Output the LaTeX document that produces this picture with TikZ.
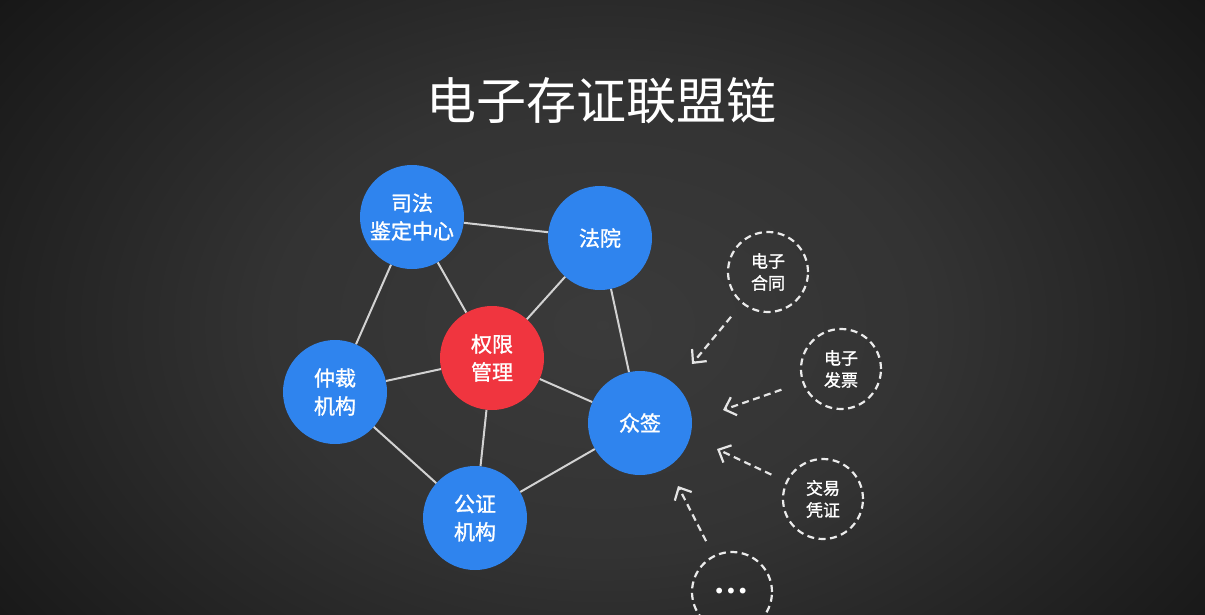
\documentclass[tikz,border=0pt]{standalone}
\usepackage{fontspec}
\newfontfamily\cjk{Noto Sans CJK SC}
\newfontfamily\cjkb[FakeBold=1.2]{Noto Sans CJK SC}
\newfontfamily\dejavu{DejaVu Sans}
\usetikzlibrary{arrows.meta}
\definecolor{nodeblue}{HTML}{2F84EE}
\definecolor{nodered}{HTML}{F0353F}
\definecolor{edgegray}{HTML}{D2D2D2}
\pgfdeclareradialshading{bgshade}{\pgfpoint{0bp}{0bp}}{%
  color(0bp)=(black!77!white);
  color(12bp)=(black!80!white);
  color(28bp)=(black!91!white);
  color(50bp)=(black)}
\tikzset{
  member/.style={circle, minimum size=104pt, inner sep=0pt, fill=nodeblue,
    text=white, align=center, font=\cjkb\fontsize{21}{28}\selectfont},
  core/.style={member, fill=nodered},
  source/.style={circle, minimum size=80pt, inner sep=0pt, draw=white!92!black,
    line width=2.2pt, dash pattern=on 7pt off 4.5pt, text=white, align=center,
    font=\cjkb\fontsize{17}{22}\selectfont},
  link/.style={draw=edgegray, line width=2pt},
  feed/.style={draw=white!90!black, line width=2.2pt, dash pattern=on 7pt off 4.5pt,
    -{Straight Barb[length=10pt,width=19pt,line width=2.2pt]}},
}
\begin{document}
\begin{tikzpicture}[x=1pt,y=-1pt]
\useasboundingbox (0,0) rectangle (1205,614);
\shade[shading=bgshade] (-80,-150) rectangle (1285,800);
\node[text=white, font=\cjk\fontsize{50}{58}\selectfont] (title) at (601,101) {电子存证联盟链};
% members
\node[member] (sifa) at (412,217) {司法\\鉴定中心};
\node[member] (fayuan) at (600,238) {法院};
\node[core] (quanxian) at (492,358) {权限\\管理};
\node[member] (zhongcai) at (335,392) {仲裁\\机构};
\node[member] (zhongqian) at (640,423) {众签};
\node[member] (gongzheng) at (475,518) {公证\\机构};
% links
\draw[link] (sifa) -- (fayuan);
\draw[link] (sifa) -- (zhongcai);
\draw[link] (sifa) -- (quanxian);
\draw[link] (fayuan) -- (quanxian);
\draw[link] (fayuan) -- (zhongqian);
\draw[link] (zhongcai) -- (quanxian);
\draw[link] (zhongcai) -- (gongzheng);
\draw[link] (quanxian) -- (zhongqian);
\draw[link] (quanxian) -- (gongzheng);
\draw[link] (gongzheng) -- (zhongqian);
% sources
\node[source] (hetong) at (768,272) {电子\\合同};
\node[source] (fapiao) at (841,369) {电子\\发票};
\node[source] (pingzheng) at (823,499) {交易\\凭证};
\node[source] (more) at (732,592) {};
\node[text=white, font=\dejavu\fontsize{20}{22}\selectfont, inner sep=0pt] (dots) at (731,593) {•••};
% arrow tips
\coordinate (t1) at (692,364);
\coordinate (t2) at (723,410);
\coordinate (t3) at (717,449);
\coordinate (t4) at (678,486);
\draw[feed, shorten <=17pt] (hetong) -- (t1);
\draw[feed, shorten <=22pt] (fapiao) -- (t2);
\draw[feed, shorten <=16pt] (pingzheng) -- (t3);
\draw[feed, shorten <=16pt] (more) -- (t4);
\end{tikzpicture}
\end{document}
